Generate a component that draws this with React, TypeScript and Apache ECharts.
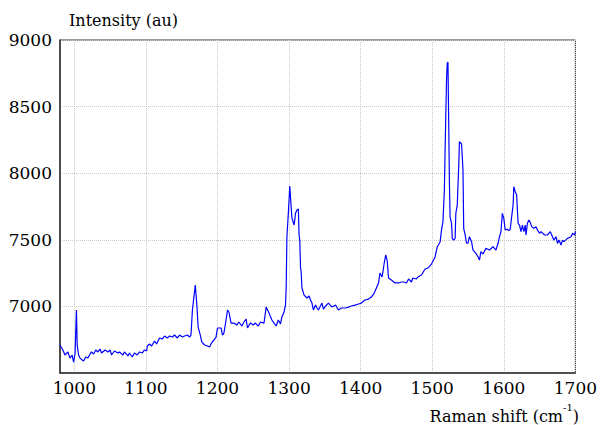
import React, { useEffect, useRef } from "react";
import * as echarts from "echarts";

const ramanShift = [
  980, 984, 987, 991, 994, 997, 999, 1001, 1003, 1004, 1006, 1008, 1011, 1013, 1016, 1019, 1022, 1024, 1027, 1030,
  1033, 1036, 1038, 1043, 1047, 1050, 1052, 1056, 1061, 1063, 1068, 1070, 1075, 1077, 1081, 1084, 1088, 1091, 1095, 1098,
  1101, 1102, 1105, 1108, 1112, 1115, 1119, 1123, 1126, 1130, 1133, 1137, 1140, 1144, 1147, 1151, 1154, 1158, 1161, 1163,
  1165, 1169, 1171, 1173, 1176, 1178, 1182, 1186, 1189, 1191, 1193, 1198, 1200, 1205, 1207, 1209, 1212, 1214, 1216, 1219,
  1223, 1227, 1230, 1234, 1237, 1240, 1242, 1246, 1250, 1253, 1257, 1260, 1265, 1268, 1272, 1276, 1279, 1282, 1285, 1288,
  1290, 1293, 1295, 1296, 1297, 1299, 1301, 1302, 1304, 1307, 1308, 1309, 1311, 1313, 1314, 1315, 1316, 1317, 1318, 1321,
  1325, 1328, 1330, 1332, 1334, 1337, 1339, 1341, 1346, 1348, 1351, 1355, 1360, 1365, 1369, 1373, 1379, 1383, 1387, 1392,
  1397, 1401, 1406, 1411, 1415, 1419, 1422, 1425, 1427, 1430, 1433, 1435, 1437, 1439, 1443, 1448, 1453, 1457, 1460, 1464,
  1467, 1471, 1473, 1478, 1480, 1485, 1490, 1494, 1499, 1504, 1507, 1511, 1513, 1515, 1517, 1518, 1520, 1521, 1522, 1523,
  1524, 1525, 1527, 1528, 1530, 1532, 1533, 1535, 1537, 1538, 1541, 1542, 1543, 1544, 1546, 1548, 1550, 1552, 1555, 1557,
  1559, 1561, 1564, 1566, 1568, 1571, 1575, 1580, 1585, 1589, 1592, 1594, 1596, 1598, 1600, 1602, 1605, 1607, 1609, 1611,
  1613, 1614, 1616, 1618, 1619, 1620, 1622, 1624, 1626, 1628, 1630, 1631, 1633, 1635, 1637, 1639, 1642, 1645, 1647, 1650,
  1652, 1657, 1661, 1665, 1668, 1670, 1673, 1675, 1677, 1680, 1682, 1684, 1689, 1694, 1696, 1699, 1700,
];

const intensity = [
  6710, 6673, 6635, 6658, 6612, 6635, 6582, 6643, 6973, 6710, 6635, 6612, 6597, 6590, 6620, 6612, 6643, 6658, 6643, 6673,
  6658, 6680, 6650, 6673, 6658, 6673, 6635, 6665, 6650, 6658, 6635, 6658, 6628, 6650, 6620, 6650, 6635, 6658, 6650, 6673,
  6665, 6703, 6718, 6703, 6740, 6718, 6763, 6755, 6778, 6763, 6778, 6770, 6785, 6763, 6785, 6770, 6778, 6785, 6770, 6785,
  6973, 7160, 7025, 6845, 6785, 6733, 6710, 6703, 6695, 6718, 6733, 6770, 6838, 6838, 6785, 6800, 6898, 6973, 6958, 6875,
  6875, 6860, 6883, 6853, 6883, 6905, 6838, 6875, 6860, 6875, 6853, 6883, 6875, 6995, 6950, 6898, 6875, 6853, 6898, 6868,
  6920, 6958, 7010, 7148, 7523, 7699, 7904, 7821, 7663, 7611, 7649, 7700, 7724, 7731, 7536, 7498, 7296, 7251, 7138, 7085,
  7063, 7078, 7048, 7025, 6973, 7010, 6988, 6973, 7025, 6980, 7003, 7025, 6995, 7010, 6973, 6988, 6988, 6995, 7003, 7010,
  7018, 7025, 7048, 7055, 7070, 7100, 7138, 7176, 7251, 7221, 7326, 7386, 7348, 7213, 7198, 7176, 7176, 7183, 7183, 7176,
  7206, 7183, 7213, 7206, 7221, 7236, 7281, 7288, 7318, 7371, 7446, 7483, 7574, 7634, 7874, 8174, 8700, 8827, 8835, 8400,
  7936, 7671, 7624, 7511, 7498, 7511, 7699, 7761, 8049, 8236, 8219, 8124, 8024, 7586, 7536, 7474, 7474, 7523, 7486, 7423,
  7411, 7398, 7373, 7348, 7411, 7393, 7436, 7423, 7448, 7423, 7474, 7523, 7561, 7699, 7661, 7574, 7579, 7569, 7579, 7674,
  7761, 7899, 7861, 7836, 7724, 7624, 7611, 7561, 7611, 7561, 7611, 7536, 7624, 7649, 7629, 7599, 7586, 7599, 7574, 7549,
  7561, 7536, 7536, 7561, 7523, 7498, 7523, 7473, 7498, 7461, 7498, 7486, 7511, 7523, 7549, 7536, 7561,
];

const xTicks = [1000, 1100, 1200, 1300, 1400, 1500, 1600, 1700];

const FONT = "DejaVu Serif";

export default function App() {
  const ref = useRef<HTMLDivElement>(null);

  useEffect(() => {
    if (!ref.current) return;
    const chart = echarts.init(ref.current, null, { renderer: "svg" });
    const data = ramanShift.map((x, i) => [x, intensity[i]]);
    chart.setOption({
      animation: false,
      backgroundColor: "#ffffff",
      textStyle: { fontFamily: FONT },
      grid: {
        left: 60,
        right: 21,
        top: 40,
        bottom: 52,
        show: true,
        borderColor: "#333333",
        borderWidth: 1,
        containLabel: false,
      },
      xAxis: {
        type: "value",
        min: 980,
        max: 1700,
        axisLine: { show: true, onZero: false, lineStyle: { color: "#333333", width: 1.5 } },
        axisTick: { show: false, customValues: xTicks },
        axisLabel: {
          customValues: xTicks,
          color: "#000000",
          fontFamily: FONT,
          fontSize: 17,
          margin: 6,
          formatter: (v: number) => String(v),
        },
        splitLine: { show: true, lineStyle: { color: "#c8c8c8", type: "dotted", width: 1 } },
      },
      yAxis: {
        type: "value",
        min: 6500,
        max: 9000,
        interval: 500,
        axisLine: { show: true, onZero: false, lineStyle: { color: "#333333", width: 1.5 } },
        axisTick: { show: false },
        axisLabel: {
          color: "#000000",
          fontFamily: FONT,
          fontSize: 17,
          margin: 8,
          formatter: (v: number) => (v === 6500 ? "" : String(v)),
        },
        splitLine: { show: true, lineStyle: { color: "#c8c8c8", type: "dotted", width: 1 } },
      },
      graphic: [
        {
          type: "text",
          left: 69,
          top: 12,
          style: {
            text: "Intensity (au)",
            fontFamily: FONT,
            fontSize: 16,
            fill: "#000000",
          },
        },
        {
          type: "text",
          right: 21,
          top: 402,
          style: {
            text: "{a|Raman shift (cm}{s|-1}{a|)}",
            fontFamily: FONT,
            fontSize: 16,
            fill: "#000000",
            rich: {
              a: { fontFamily: FONT, fontSize: 16, fill: "#000000", verticalAlign: "bottom", lineHeight: 22 },
              s: { fontFamily: FONT, fontSize: 10, fill: "#000000", verticalAlign: "top", lineHeight: 22, padding: [0, 0, 10, 0] },
            },
          },
        },
      ],
      series: [
        {
          type: "line",
          data,
          symbol: "none",
          lineStyle: { color: "#0000ff", width: 1.2 },
          silent: true,
        },
      ],
    });
    return () => chart.dispose();
  }, []);

  return (
    <div
      ref={ref}
      style={{ position: "fixed", left: 0, top: 0, width: 600, height: 425 }}
    />
  );
}
